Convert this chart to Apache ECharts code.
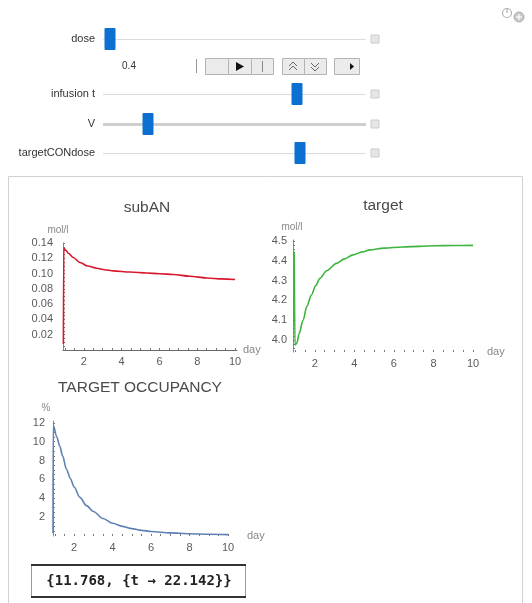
<!DOCTYPE html>
<html>
<head>
<meta charset="utf-8">
<script src="https://cdn.jsdelivr.net/npm/echarts@6/dist/echarts.min.js"></script>
<style>
  html, body { margin: 0; padding: 0; background: #ffffff; }
  #main { width: 532px; height: 603px; }
</style>
</head>
<body>
<div id="main"></div>
<script>
// ---- time axis (days) ----
const dayTicks = [2, 4, 6, 8, 10];

// ---- subAN concentration (mol/l) ----
const subANDays   = [0.92, 0.94, 1.05, 1.2, 1.44, 1.8, 2.2, 2.68, 3.1, 3.56, 4.45, 5.33, 6.0, 6.74, 7.6, 8.5, 9.3, 10.0];
const subANValues = [0.008, 0.1335, 0.1305, 0.1262, 0.121, 0.1145, 0.110, 0.107, 0.105, 0.1035, 0.102, 0.1007, 0.0998, 0.0987, 0.0965, 0.0943, 0.093, 0.0922];
const subANTicks  = [0.02, 0.04, 0.06, 0.08, 0.10, 0.12, 0.14];

// ---- target concentration (mol/l) ----
const targetDays   = [0.96, 1.0, 1.1, 1.2, 1.41, 1.6, 1.83, 2.05, 2.25, 2.6, 3.1, 3.5, 3.93, 4.4, 4.78, 5.5, 6.46, 7.3, 8.15, 9.0, 10.0];
const targetValues = [4.446, 3.975, 3.985, 4.03, 4.10, 4.17, 4.227, 4.275, 4.31, 4.35, 4.387, 4.41, 4.43, 4.445, 4.455, 4.464, 4.47, 4.473, 4.476, 4.477, 4.478];
const targetTicks  = [4.0, 4.1, 4.2, 4.3, 4.4, 4.5];

// ---- target occupancy (%) ----
const occupancyDays   = [0.9, 0.91, 1.1, 1.25, 1.4, 1.6, 1.8, 2.0, 2.3, 2.64, 3.0, 3.5, 4.0, 4.5, 5.0, 5.5, 6.0, 7.0, 8.0, 9.0, 10.0];
const occupancyValues = [0.3, 11.768, 10.5, 9.54, 8.5, 7.08, 6.1, 5.2, 4.1, 3.22, 2.6, 1.85, 1.35, 1.02, 0.78, 0.6, 0.48, 0.33, 0.24, 0.19, 0.15];
const occupancyTicks  = [2, 4, 6, 8, 10, 12];

// ---- controls ----
const sliderLabels = ['dose', 'infusion t', 'V', 'targetCONdose'];
const doseText = '0.4';
const resultText = '{11.768, {t \u2192 22.142}}';

const FONT = 'Arial, "Liberation Sans", sans-serif';

function steps(from, to, step) {
  const out = [];
  const n = Math.round((to - from) / step);
  for (let i = 0; i <= n; i++) out.push(+(from + i * step).toFixed(4));
  return out;
}
function zip(xs, ys) { return xs.map((x, i) => [x, ys[i]]); }

function xAxisFor(gridIndex, showLine, nameGap) {
  return {
    type: 'value', gridIndex, min: 0.9, max: 10.1,
    splitLine: { show: false },
    axisLine: { show: showLine, lineStyle: { color: '#6a6a6a', width: 1 } },
    axisTick: { show: true, inside: true, length: 2, customValues: steps(1.0, 10.0, 0.5),
                lineStyle: { color: '#777' } },
    axisLabel: { customValues: dayTicks, color: '#5a5a5a', fontSize: 11, fontFamily: FONT, margin: 6 },
    name: 'day', nameLocation: 'end', nameGap,
    nameTextStyle: { color: '#888', fontSize: 11, fontFamily: FONT, verticalAlign: 'middle' }
  };
}
function yAxisFor(gridIndex, min, max, ticks, minor, digits, name, namePad, margin) {
  return {
    type: 'value', gridIndex, min, max,
    splitLine: { show: false },
    axisLine: { show: true, lineStyle: { color: '#8a8a8a', width: 1 } },
    axisTick: { show: true, inside: true, length: 2, customValues: minor, lineStyle: { color: '#777' } },
    axisLabel: { customValues: ticks, color: '#5a5a5a', fontSize: 11, fontFamily: FONT, margin,
                 formatter: v => Number(v).toFixed(digits) },
    name, nameLocation: 'end', nameGap: 8,
    nameTextStyle: { color: '#888', fontSize: 10, fontFamily: FONT, padding: namePad }
  };
}

// slider geometry (layout only)
const trackX0 = 103, trackX1 = 366;
const sliderRows = [
  { y: 39,  thumb: 110, thick: false },
  { y: 94,  thumb: 297, thick: false },
  { y: 124, thumb: 148, thick: true },
  { y: 153, thumb: 300, thick: false }
];

const graphics = [];
// outer output panel
graphics.push({ type: 'rect', shape: { x: 8.5, y: 176.5, width: 514, height: 440 },
  style: { fill: 'none', stroke: '#d2d2d2', lineWidth: 1 }, z: 0 });

sliderRows.forEach((r, i) => {
  graphics.push({ type: 'text', x: 95, y: r.y, style: { text: sliderLabels[i], fill: '#333',
    font: '11px ' + FONT, textAlign: 'right', textVerticalAlign: 'middle' } });
  graphics.push({ type: 'line', shape: { x1: trackX0, y1: r.y + 0.5, x2: trackX1, y2: r.y + 0.5 },
    style: { stroke: r.thick ? '#cfcfcf' : '#dcdcdc', lineWidth: r.thick ? 3 : 1 } });
  graphics.push({ type: 'rect', shape: { x: 371, y: r.y - 4, width: 8, height: 8 },
    style: { fill: '#e6e6e6', stroke: '#cdcdcd', lineWidth: 1 } });
  graphics.push({ type: 'rect', shape: { x: r.thumb - 5.5, y: r.y - 11, width: 11, height: 22, r: 1 },
    style: { fill: '#0b70d0' } });
});

// animation control row
const rowY = 58, rowH = 16;
graphics.push({ type: 'text', x: 129, y: rowY + 8, style: { text: doseText, fill: '#333',
  font: '10px ' + FONT, textAlign: 'center', textVerticalAlign: 'middle' } });
graphics.push({ type: 'line', shape: { x1: 196.5, y1: rowY + 1, x2: 196.5, y2: rowY + rowH - 1 },
  style: { stroke: '#999', lineWidth: 1 } });
[[205, 228], [228, 251], [251, 273], [282, 304], [304, 326], [334, 359]].forEach(b => {
  graphics.push({ type: 'rect', shape: { x: b[0] + 0.5, y: rowY + 0.5, width: b[1] - b[0], height: rowH },
    style: { fill: '#ebebeb', stroke: '#b4b4b4', lineWidth: 1 } });
});
graphics.push({ type: 'polygon', shape: { points: [[236, rowY + 4], [236, rowY + 13], [244, rowY + 8.5]] },
  style: { fill: '#111' } });
graphics.push({ type: 'line', shape: { x1: 262.5, y1: rowY + 3, x2: 262.5, y2: rowY + 14 },
  style: { stroke: '#888', lineWidth: 1 } });
graphics.push({ type: 'polyline', shape: { points: [[289, rowY + 8], [293, rowY + 4], [297, rowY + 8]] },
  style: { stroke: '#666', lineWidth: 1, fill: 'none' } });
graphics.push({ type: 'polyline', shape: { points: [[289, rowY + 12], [293, rowY + 8], [297, rowY + 12]] },
  style: { stroke: '#666', lineWidth: 1, fill: 'none' } });
graphics.push({ type: 'polyline', shape: { points: [[311, rowY + 5], [315, rowY + 9], [319, rowY + 5]] },
  style: { stroke: '#666', lineWidth: 1, fill: 'none' } });
graphics.push({ type: 'polyline', shape: { points: [[311, rowY + 9], [315, rowY + 13], [319, rowY + 9]] },
  style: { stroke: '#666', lineWidth: 1, fill: 'none' } });
graphics.push({ type: 'polygon', shape: { points: [[350, rowY + 5], [350, rowY + 12], [354, rowY + 8.5]] },
  style: { fill: '#111' } });

// corner icons
graphics.push({ type: 'circle', shape: { cx: 507, cy: 13, r: 4.5 }, style: { fill: 'none', stroke: '#b0b0b0', lineWidth: 1.2 } });
graphics.push({ type: 'line', shape: { x1: 507, y1: 9, x2: 507, y2: 13 }, style: { stroke: '#b0b0b0', lineWidth: 1.2 } });
graphics.push({ type: 'circle', shape: { cx: 519, cy: 17, r: 5 }, style: { fill: '#c8c8c8', stroke: '#b0b0b0', lineWidth: 1 } });
graphics.push({ type: 'line', shape: { x1: 516, y1: 17, x2: 522, y2: 17 }, style: { stroke: '#fff', lineWidth: 1.2 } });
graphics.push({ type: 'line', shape: { x1: 519, y1: 14, x2: 519, y2: 20 }, style: { stroke: '#fff', lineWidth: 1.2 } });

// plot titles
[['subAN', 147, 208], ['target', 383, 206], ['TARGET OCCUPANCY', 140, 388]].forEach(t => {
  graphics.push({ type: 'text', x: t[1], y: t[2], style: { text: t[0], fill: '#4a4a4a',
    font: '15.5px ' + FONT, textAlign: 'center', textVerticalAlign: 'middle' } });
});

// result box
graphics.push({ type: 'rect', shape: { x: 31.5, y: 565.5, width: 214, height: 31 },
  style: { fill: '#fff', stroke: '#9a9a9a', lineWidth: 1 } });
graphics.push({ type: 'line', shape: { x1: 31, y1: 565, x2: 246, y2: 565 }, style: { stroke: '#333', lineWidth: 2 } });
graphics.push({ type: 'line', shape: { x1: 31, y1: 597, x2: 246, y2: 597 }, style: { stroke: '#333', lineWidth: 2 } });
graphics.push({ type: 'text', x: 139, y: 581, style: { text: resultText, fill: '#222',
  font: 'bold 14px "DejaVu Sans Mono", "Liberation Mono", monospace', textAlign: 'center', textVerticalAlign: 'middle' } });

const option = {
  backgroundColor: '#ffffff',
  animation: false,
  grid: [
    { left: 63, top: 243, width: 174, height: 107, outerBoundsMode: 'none' },
    { left: 293, top: 240, width: 182, height: 112, outerBoundsMode: 'none' },
    { left: 53, top: 421, width: 177, height: 115, outerBoundsMode: 'none' }
  ],
  xAxis: [
    xAxisFor(0, true, 6),
    xAxisFor(1, false, 12),
    xAxisFor(2, false, 17)
  ],
  yAxis: [
    yAxisFor(0, 0, 0.14, subANTicks, steps(0.005, 0.14, 0.005), 2, 'mol/l', [0, 10, 0, 0], 10),
    yAxisFor(1, 3.94, 4.505, targetTicks, steps(3.96, 4.5, 0.02), 1, 'mol/l', [0, 2, 0, 0], 6),
    yAxisFor(2, 0, 12.2, occupancyTicks, steps(0.5, 12, 0.5), 0, '%', [0, 14, 0, 0], 8)
  ],
  series: [
    { type: 'line', xAxisIndex: 0, yAxisIndex: 0, data: zip(subANDays, subANValues),
      showSymbol: false, smooth: 0.3, smoothMonotone: 'x', lineStyle: { color: '#d8182e', width: 1.6 } },
    { type: 'line', xAxisIndex: 1, yAxisIndex: 1, data: zip(targetDays, targetValues),
      showSymbol: false, smooth: 0.3, smoothMonotone: 'x', lineStyle: { color: '#3db43d', width: 1.6 } },
    { type: 'line', xAxisIndex: 2, yAxisIndex: 2, data: zip(occupancyDays, occupancyValues),
      showSymbol: false, smooth: 0.3, smoothMonotone: 'x', lineStyle: { color: '#5e81b5', width: 1.6 } }
  ],
  graphic: graphics
};

const chart = echarts.init(document.getElementById('main'), null, { renderer: 'canvas' });
chart.setOption(option);
</script>
</body>
</html>
